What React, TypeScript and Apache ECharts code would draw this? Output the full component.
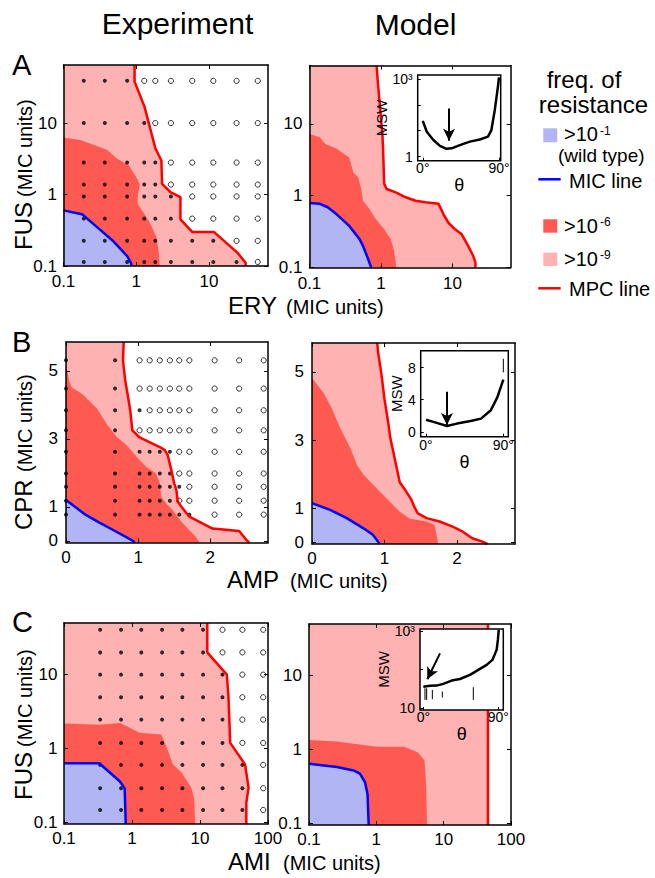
import React, { useEffect, useRef } from 'react';
import * as echarts from 'echarts';

type Pt = [number, number];

// ---------------- Panel A : ERY (x) vs FUS (y), log-log ----------------
const A_TICKS = [0.1, 1, 10];
const A_EXP_COLS = [0.19, 0.37, 0.75, 1.29, 1.83, 3.0, 5.9, 11.5, 24, 47];
const A_EXP_ROWS = [0.114, 0.225, 0.46, 0.94, 1.38, 2.8, 10, 39];
const A_EXP_FILLED = [9, 8, 6, 6, 5, 5, 4, 3];
const A_EXP_MPC: Pt[] = [[0.95, 65], [0.95, 38], [1.3, 17], [1.84, 4.4], [2.22, 3.0], [2.27, 1.41], [2.96, 1.08], [4.06, 0.92], [4.06, 0.45], [5.9, 0.3], [11.7, 0.3], [24.6, 0.154], [32, 0.111], [32, 0.1]];
const A_EXP_R6: Pt[] = [[0.1, 6.3], [0.17, 5.8], [0.32, 4.6], [0.4, 4.2], [0.54, 3.2], [0.79, 2.56], [1.03, 1.66], [1.12, 1.41], [1.05, 0.92], [1.05, 0.74], [1.34, 0.51], [1.57, 0.39], [1.9, 0.25], [2.04, 0.16], [2.11, 0.1]];
const A_EXP_MIC: Pt[] = [[0.1, 0.6], [0.18, 0.53], [0.29, 0.35], [0.49, 0.22], [0.75, 0.138], [0.85, 0.11], [0.86, 0.1]];
const A_MOD_MPC: Pt[] = [[0.87, 65], [0.9, 40], [0.95, 22], [1.05, 6.9], [1.07, 4.5], [1.11, 1.46], [1.2, 1.24], [1.61, 1.11], [2.22, 0.95], [3.05, 0.85], [4.19, 0.81], [6.4, 0.77], [7.1, 0.62], [7.5, 0.55], [8.8, 0.42], [10.9, 0.34], [13.5, 0.29], [16.6, 0.2], [19.5, 0.146], [21, 0.117], [21, 0.1]];
const A_MOD_R6: Pt[] = [[0.1, 7.2], [0.14, 6.5], [0.165, 5.3], [0.24, 4.5], [0.36, 3.4], [0.41, 2.1], [0.48, 1.8], [0.53, 1.24], [0.56, 0.85], [0.69, 0.65], [0.85, 0.47], [1.11, 0.34], [1.37, 0.25], [1.53, 0.17], [1.64, 0.1]];
const A_MOD_MIC: Pt[] = [[0.1, 0.79], [0.14, 0.77], [0.18, 0.69], [0.24, 0.55], [0.36, 0.38], [0.5, 0.25], [0.56, 0.2], [0.65, 0.138], [0.73, 0.1]];
const A_INSET_CURVE: Pt[] = [[0, 24], [4.7, 9.1], [12.5, 4.4], [20.3, 2.6], [28, 2.0], [34, 2.1], [43.8, 2.8], [55.6, 3.8], [67.3, 4.6], [77, 5.9], [81, 10.6], [85, 62], [88.7, 490], [90, 1130]];
const A_INSET_ARROW: Pt[] = [[31, 72], [31, 4.1]];
const A_INSET_BARS: Pt[][] = [];

// ---------------- Panel B : AMP (x) vs CPR (y), linear ----------------
const B_XTICKS = [0, 1, 2];
const B_YTICKS = [0, 1, 3, 5];
const B_EXP_COLS = [0, 0.68, 1.02, 1.16, 1.3, 1.44, 1.57, 1.71, 2.06, 2.4, 2.74];
const B_EXP_ROWS = [0.77, 1.18, 1.59, 1.98, 2.62, 3.25, 3.84, 4.48, 5.31];
const B_EXP_FILLED = [8, 6, 7, 6, 6, 2, 3, 2, 2];
const B_EXP_MPC: Pt[] = [[0.8, 5.85], [0.79, 5.31], [0.82, 4.73], [0.86, 4.24], [0.89, 3.84], [0.92, 3.25], [1.02, 3.04], [1.3, 2.76], [1.37, 2.67], [1.41, 2.52], [1.46, 2.08], [1.5, 1.69], [1.53, 1.49], [1.55, 1.15], [1.6, 1.0], [1.71, 0.71], [1.85, 0.56], [2.03, 0.36], [2.4, 0.29], [2.51, 0], [2.54, -0.05]];
const B_EXP_R6: Pt[] = [[0, 5.22], [0.04, 4.73], [0.08, 4.51], [0.22, 4.33], [0.43, 3.89], [0.56, 3.45], [0.7, 3.06], [0.84, 2.81], [0.98, 2.47], [1.11, 2.18], [1.25, 1.98], [1.3, 1.69], [1.32, 1.29], [1.39, 1.1], [1.48, 0.9], [1.6, 0.56], [1.71, 0.31], [1.8, 0.12], [1.85, -0.05]];
const B_EXP_MIC: Pt[] = [[0, 1.2], [0.27, 0.77], [0.47, 0.53], [0.66, 0.31], [0.93, 0.0], [0.95, -0.05]];
const B_MOD_MPC: Pt[] = [[0.9, 5.85], [0.91, 5.6], [0.96, 4.9], [1.0, 4.2], [1.05, 3.53], [1.08, 3.06], [1.12, 2.67], [1.16, 2.27], [1.21, 1.76], [1.3, 1.49], [1.37, 1.25], [1.42, 1.0], [1.46, 0.85], [1.58, 0.71], [1.76, 0.61], [1.94, 0.46], [2.08, 0.31], [2.21, 0.12], [2.35, 0.02], [2.42, -0.05]];
const B_MOD_R6: Pt[] = [[0, 4.82], [0.16, 4.38], [0.27, 3.94], [0.39, 3.35], [0.53, 2.76], [0.62, 2.27], [0.71, 1.98], [0.89, 1.59], [1.07, 1.2], [1.21, 0.9], [1.35, 0.69], [1.58, 0.61], [1.69, 0.51], [1.71, 0.31], [1.74, -0.05]];
const B_MOD_MIC: Pt[] = [[0, 1.15], [0.25, 0.95], [0.48, 0.71], [0.71, 0.41], [0.84, 0.22], [0.91, 0.02], [0.93, -0.05]];
const B_INSET_CURVE: Pt[] = [[0, 1.5], [8.6, 1.24], [24.4, 0.74], [36, 1.03], [52, 1.36], [64, 1.65], [75.5, 2.7], [83, 4.3], [90, 6.5]];
const B_INSET_ARROW: Pt[] = [[24.4, 5.0], [24.4, 0.85]];
const B_INSET_BARS: Pt[][] = [[[90, 7.4], [90, 9.1]]];

// ---------------- Panel C : AMI (x) vs FUS (y), log-log ----------------
const C_XTICKS = [0.1, 1, 10, 100];
const C_YTICKS = [0.1, 1, 10];
const C_EXP_COLS = [0.34, 0.69, 1.37, 2.77, 5.5, 11.1, 21.4, 42, 85];
const C_EXP_ROWS = [0.147, 0.29, 0.6, 1.19, 2.46, 4.94, 10, 20, 40.5];
const C_EXP_FILLED = [8, 8, 8, 7, 7, 7, 7, 6, 6];
const C_EXP_MPC: Pt[] = [[12.8, 50], [12.8, 20], [24.8, 10], [26.2, 5.1], [27.8, 1.19], [46, 0.61], [51.8, 0.295], [48, 0.184], [48, 0.095]];
const C_EXP_R6: Pt[] = [[0.1, 2.18], [0.34, 2.1], [0.67, 2.22], [1.3, 1.63], [2.7, 1.55], [3.2, 1.07], [4.0, 0.61], [5.4, 0.47], [7.5, 0.29], [8.2, 0.205], [8.5, 0.095]];
const C_EXP_MIC: Pt[] = [[0.1, 0.63], [0.33, 0.63], [0.66, 0.36], [0.78, 0.29], [0.81, 0.095]];
const C_MOD_MPC: Pt[] = [[45.5, 50], [45.5, 0.095]];
const C_MOD_R6: Pt[] = [[0.1, 1.34], [0.26, 1.28], [0.64, 1.15], [1.02, 1.09], [2.58, 1.09], [4.1, 0.92], [5.2, 0.71], [5.5, 0.31], [5.67, 0.095]];
const C_MOD_MIC: Pt[] = [[0.1, 0.64], [0.26, 0.58], [0.46, 0.52], [0.57, 0.47], [0.68, 0.36], [0.74, 0.25], [0.77, 0.095]];
const C_INSET_CURVE: Pt[] = [[0, 36], [8, 38], [16, 38.5], [24, 42.6], [34, 52], [44, 57], [56, 73], [66, 98], [76, 132], [83, 178], [88, 323], [89.5, 586], [90.5, 1060]];
const C_INSET_ARROW: Pt[] = [[20, 263], [4.8, 56]];
const C_INSET_BARS: Pt[][] = [[[2, 16.4], [2, 32.9]], [[4, 16.4], [4, 32.9]], [[10.8, 17.1], [10.8, 29.8]], [[22.8, 18.9], [22.8, 27]], [[60, 16.4], [60, 35]]];

// ---------------- styling ----------------
const FONT = '"Liberation Sans", Arial, Helvetica, sans-serif';
const FILL_WT = '#b1b5f3';
const FILL_R6 = '#fe5a52';
const FILL_R9 = '#feb2b1';
const LINE_MPC = '#ff0000';
const LINE_MIC = '#0000ff';

type AxisDef = { type: 'log' | 'value'; min: number; max: number; ticks: number[] };
type PanelDef = {
  rect: [number, number, number, number];
  x: AxisDef; y: AxisDef; xMargin: number; yMargin: number;
  mpc: Pt[]; r6: Pt[]; mic: Pt[];
  dots?: { cols: number[]; rows: number[]; filled: number[] };
};
type InsetDef = {
  rect: [number, number, number, number];
  x: AxisDef; y: AxisDef; yLabels: number[]; nameGapY: number; nameGapX: number; xMargin: number;
  curve: Pt[]; arrow: Pt[]; bars: Pt[][];
};

const A_AX: AxisDef = { type: 'log', min: 0.1, max: 65, ticks: A_TICKS };
const B_X: AxisDef = { type: 'value', min: 0, max: 2.8, ticks: B_XTICKS };
const B_Y: AxisDef = { type: 'value', min: -0.05, max: 5.85, ticks: B_YTICKS };
const C_X: AxisDef = { type: 'log', min: 0.1, max: 100, ticks: C_XTICKS };
const C_Y: AxisDef = { type: 'log', min: 0.095, max: 50, ticks: C_YTICKS };

const PANELS: PanelDef[] = [
  { rect: [63.5, 65, 204.5, 201], x: A_AX, y: A_AX, xMargin: 7, yMargin: 6.5, mpc: A_EXP_MPC, r6: A_EXP_R6, mic: A_EXP_MIC, dots: { cols: A_EXP_COLS, rows: A_EXP_ROWS, filled: A_EXP_FILLED } },
  { rect: [309.5, 65.5, 201, 202], x: A_AX, y: A_AX, xMargin: 7, yMargin: 7, mpc: A_MOD_MPC, r6: A_MOD_R6, mic: A_MOD_MIC },
  { rect: [66, 342, 202, 200.5], x: B_X, y: B_Y, xMargin: 6, yMargin: 8, mpc: B_EXP_MPC, r6: B_EXP_R6, mic: B_EXP_MIC, dots: { cols: B_EXP_COLS, rows: B_EXP_ROWS, filled: B_EXP_FILLED } },
  { rect: [312, 343, 203, 201], x: B_X, y: B_Y, xMargin: 6, yMargin: 8, mpc: B_MOD_MPC, r6: B_MOD_R6, mic: B_MOD_MIC },
  { rect: [64, 623, 204, 201], x: C_X, y: C_Y, xMargin: 5.5, yMargin: 6.5, mpc: C_EXP_MPC, r6: C_EXP_R6, mic: C_EXP_MIC, dots: { cols: C_EXP_COLS, rows: C_EXP_ROWS, filled: C_EXP_FILLED } },
  { rect: [309, 624, 202, 201], x: C_X, y: C_Y, xMargin: 5.5, yMargin: 7, mpc: C_MOD_MPC, r6: C_MOD_R6, mic: C_MOD_MIC },
];

const INSETS: InsetDef[] = [
  { rect: [417.7, 75, 83, 85.7], x: { type: 'value', min: -6, max: 92, ticks: [0, 90] }, y: { type: 'log', min: 0.7, max: 1400, ticks: [1, 10, 100, 1000] }, yLabels: [1, 1000], nameGapY: 8, nameGapX: 8, xMargin: 0, curve: A_INSET_CURVE, arrow: A_INSET_ARROW, bars: A_INSET_BARS },
  { rect: [420.7, 350.7, 87.6, 86], x: { type: 'value', min: -6.2, max: 95.8, ticks: [0, 90] }, y: { type: 'value', min: -0.6, max: 10.1, ticks: [0, 4, 8] }, yLabels: [0, 4, 8], nameGapY: 11, nameGapX: 7, xMargin: 1, curve: B_INSET_CURVE, arrow: B_INSET_ARROW, bars: B_INSET_BARS },
  { rect: [420, 629, 83.3, 81], x: { type: 'value', min: -4, max: 96, ticks: [0, 90] }, y: { type: 'log', min: 9, max: 1120, ticks: [10, 100, 1000] }, yLabels: [10, 1000], nameGapY: 10, nameGapX: 10, xMargin: 0, curve: C_INSET_CURVE, arrow: C_INSET_ARROW, bars: C_INSET_BARS },
];

const fmtNum = (v: number) => String(Math.round(v * 1000) / 1000);

function buildOption() {
  const grid: any[] = [];
  const xAxis: any[] = [];
  const yAxis: any[] = [];
  const series: any[] = [];

  const baseAxis = (d: AxisDef, gi: number, z: number) => ({
    type: d.type,
    ...(d.type === 'log' ? { logBase: 10 } : {}),
    min: d.min,
    max: d.max,
    gridIndex: gi,
    z,
    splitLine: { show: false },
    axisPointer: { show: false },
  });

  const polySeries = (xi: number, yi: number, pts: Pt[], color: string) => ({
    type: 'custom',
    coordinateSystem: 'cartesian2d',
    xAxisIndex: xi,
    yAxisIndex: yi,
    data: [pts[0]],
    z: 2,
    silent: true,
    renderItem: (_p: any, api: any) => ({
      type: 'polygon',
      shape: { points: pts.map((p) => api.coord(p)) },
      style: { fill: color, stroke: null },
    }),
  });

  const lineSeries = (xi: number, yi: number, pts: Pt[], color: string, width: number, z: number) => ({
    type: 'line',
    xAxisIndex: xi,
    yAxisIndex: yi,
    data: pts,
    symbol: 'none',
    lineStyle: { color, width },
    z,
    silent: true,
    clip: true,
  });

  PANELS.forEach((p) => {
    const gi = grid.length;
    grid.push({ left: p.rect[0], top: p.rect[1], width: p.rect[2], height: p.rect[3], show: false });
    const lineSt = { show: true, onZero: false, lineStyle: { color: '#000', width: 1.5 } };
    const tick = (d: AxisDef) => ({ show: true, inside: true, length: 4, customValues: d.ticks, lineStyle: { color: '#000', width: 1 } });
    const xi = xAxis.length;
    xAxis.push({
      ...baseAxis(p.x, gi, 7), position: 'bottom', axisLine: lineSt, axisTick: tick(p.x),
      axisLabel: { show: true, customValues: p.x.ticks, margin: p.xMargin, fontSize: 17, color: '#000', fontFamily: FONT, formatter: (v: number) => fmtNum(v) },
    });
    xAxis.push({ ...baseAxis(p.x, gi, 7), position: 'top', axisLine: lineSt, axisTick: tick(p.x), axisLabel: { show: false } });
    const yi = yAxis.length;
    yAxis.push({
      ...baseAxis(p.y, gi, 7), position: 'left', axisLine: lineSt, axisTick: tick(p.y),
      axisLabel: { show: true, customValues: p.y.ticks, margin: p.yMargin, fontSize: 17, color: '#000', fontFamily: FONT, formatter: (v: number) => fmtNum(v) },
    });
    yAxis.push({ ...baseAxis(p.y, gi, 7), position: 'right', axisLine: lineSt, axisTick: tick(p.y), axisLabel: { show: false } });

    const xmin = p.x.min, ymin = p.y.min, ymax = p.y.max;
    series.push(polySeries(xi, yi, [[xmin, ymax], ...p.mpc, [xmin, ymin]], FILL_R9));
    series.push(polySeries(xi, yi, [...p.r6, [xmin, ymin]], FILL_R6));
    series.push(polySeries(xi, yi, [...p.mic, [xmin, ymin]], FILL_WT));

    if (p.dots) {
      const filled: Pt[] = [];
      const open: Pt[] = [];
      p.dots.rows.forEach((r, ri) => {
        p.dots!.cols.forEach((c, ci) => {
          (ci < p.dots!.filled[ri] ? filled : open).push([c, r]);
        });
      });
      series.push({ type: 'scatter', xAxisIndex: xi, yAxisIndex: yi, data: filled, symbol: 'circle', symbolSize: 4, itemStyle: { color: '#000' }, z: 3, silent: true, clip: false });
      series.push({ type: 'scatter', xAxisIndex: xi, yAxisIndex: yi, data: open, symbol: 'circle', symbolSize: 5.2, itemStyle: { color: '#fff', borderColor: '#000', borderWidth: 1 }, z: 3, silent: true, clip: false });
    }
    series.push(lineSeries(xi, yi, p.mic, LINE_MIC, 2.5, 4));
    series.push(lineSeries(xi, yi, p.mpc, LINE_MPC, 2.5, 4));
  });

  INSETS.forEach((ins) => {
    const gi = grid.length;
    grid.push({ left: ins.rect[0], top: ins.rect[1], width: ins.rect[2], height: ins.rect[3], show: true, backgroundColor: '#fff', borderColor: '#000', borderWidth: 1.5, z: 10 });
    const xi = xAxis.length;
    xAxis.push({
      ...baseAxis(ins.x, gi, 12), position: 'bottom', axisLine: { show: false, onZero: false },
      axisTick: { show: true, inside: true, length: 3, customValues: ins.x.ticks, lineStyle: { color: '#000', width: 1 } },
      axisLabel: { show: true, customValues: ins.x.ticks, margin: ins.xMargin, fontSize: 14, color: '#000', fontFamily: FONT, formatter: (v: number) => fmtNum(v) + '°' },
      name: 'θ', nameLocation: 'middle', nameGap: ins.nameGapX, nameTextStyle: { fontSize: 18, color: '#000', fontFamily: FONT },
    });
    const yi = yAxis.length;
    yAxis.push({
      ...baseAxis(ins.y, gi, 12), position: 'left', axisLine: { show: false, onZero: false },
      axisTick: { show: true, inside: true, length: 3, customValues: ins.y.ticks, lineStyle: { color: '#000', width: 1 } },
      axisLabel: { show: true, customValues: ins.yLabels, margin: 5, fontSize: 14, color: '#000', fontFamily: FONT, formatter: (v: number) => (v >= 999 ? '10³' : fmtNum(v)) },
      name: 'MSW', nameLocation: 'middle', nameRotate: 90, nameGap: ins.nameGapY, nameTextStyle: { fontSize: 15, color: '#000', fontFamily: FONT },
    });
    series.push({
      ...lineSeries(xi, yi, ins.curve, '#000', 2.5, 13),
      markLine: {
        silent: true, z: 14, symbol: ['none', 'arrow'], symbolSize: [9, 12], label: { show: false },
        lineStyle: { color: '#000', width: 2, type: 'solid' },
        emphasis: { disabled: true },
        data: [[{ coord: ins.arrow[0] }, { coord: ins.arrow[1] }]],
      },
    });
    ins.bars.forEach((b) => series.push(lineSeries(xi, yi, b, '#000', 1, 13)));
  });

  const txt = (text: string, x: number, y: number, size: number, align: string, rotation = 0) => ({
    type: 'text', x, y, rotation, z: 20, silent: true,
    style: { text, fill: '#000', fontSize: size, fontFamily: FONT, align, verticalAlign: 'middle' },
  });
  const box = (x: number, y: number, w: number, h: number, fill: string) => ({ type: 'rect', z: 20, silent: true, shape: { x, y, width: w, height: h }, style: { fill } });
  const seg = (x1: number, y1: number, x2: number, y2: number, stroke: string) => ({ type: 'line', z: 20, silent: true, shape: { x1, y1, x2, y2 }, style: { stroke, lineWidth: 2.5 } });
  const R = Math.PI / 2;

  const graphic = [
    txt('Experiment', 177.5, 23.5, 30, 'center'),
    txt('Model', 415.5, 24.5, 30, 'center'),
    txt('A', 12, 64.8, 29, 'left'),
    txt('B', 12, 341.8, 29, 'left'),
    txt('C', 12, 621.8, 29, 'left'),
    // y titles (rotated)
    txt('FUS', 23.6, 250, 24, 'left', R),
    txt('(MIC units)', 25, 197, 20, 'left', R),
    txt('CPR', 23.6, 530, 24, 'left', R),
    txt('(MIC units)', 25, 472, 20, 'left', R),
    txt('FUS', 23.6, 800, 24, 'left', R),
    txt('(MIC units)', 25, 747, 20, 'left', R),
    // x titles
    txt('ERY', 228, 305.6, 24, 'left'),
    txt('(MIC units)', 286, 307, 20, 'left'),
    txt('AMP', 227, 579.9, 24, 'left'),
    txt('(MIC units)', 290, 581.3, 20, 'left'),
    txt('AMI', 228, 861.6, 24, 'left'),
    txt('(MIC units)', 283, 863, 20, 'left'),
    // legend
    txt('freq. of', 584, 79.5, 24, 'center'),
    txt('resistance', 593.5, 104.5, 24, 'center'),
    box(543.3, 128.3, 14, 14, FILL_WT),
    txt('>10', 564, 134.3, 20, 'left'),
    txt('-1', 600, 130.5, 12, 'left'),
    txt('(wild type)', 558, 155.3, 19, 'left'),
    seg(538.3, 179.3, 560.7, 179.3, LINE_MIC),
    txt('MIC line', 569, 180.7, 20, 'left'),
    box(543.3, 219.3, 14, 13.4, FILL_R6),
    txt('>10', 564, 225.7, 20, 'left'),
    txt('-6', 600, 221.7, 12, 'left'),
    box(543.3, 252.7, 14, 13.3, FILL_R9),
    txt('>10', 564, 259, 20, 'left'),
    txt('-9', 600, 255, 12, 'left'),
    seg(538.3, 288.3, 560.7, 288.3, LINE_MPC),
    txt('MPC line', 569, 289, 20, 'left'),
  ];

  return {
    animation: false,
    backgroundColor: '#fff',
    textStyle: { fontFamily: FONT },
    grid, xAxis, yAxis, series,
    graphic: { elements: graphic },
  };
}

export default function App() {
  const ref = useRef<HTMLDivElement>(null);
  useEffect(() => {
    document.body.style.margin = '0';
    const chart = echarts.init(ref.current!, null, { renderer: 'svg' });
    chart.setOption(buildOption() as any);
    return () => chart.dispose();
  }, []);
  return <div ref={ref} style={{ width: 655, height: 878 }} />;
}
